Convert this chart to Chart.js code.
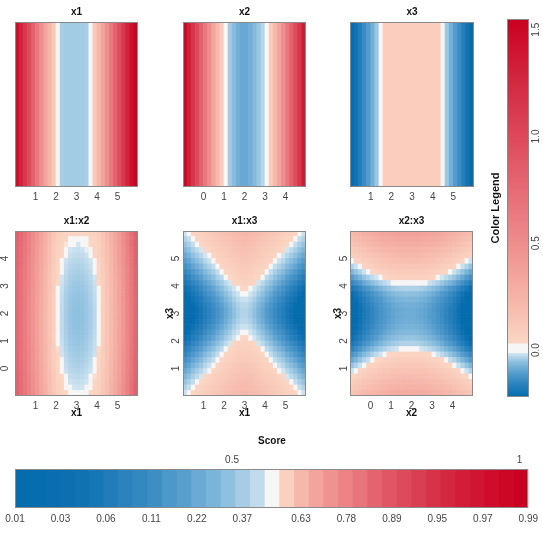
<!DOCTYPE html>
<html lang="en">
<head>
<meta charset="UTF-8">
<title>Effect heatmaps</title>
<script src="https://cdn.jsdelivr.net/npm/chart.js"></script>
<style>
  body { margin: 0; background: #fff; }
  #wrap { position: relative; width: 543px; height: 534px; overflow: hidden; }
  canvas { position: absolute; }
</style>
</head>
<body>
<div id="wrap">
  <canvas id="p1"></canvas>
  <canvas id="p2"></canvas>
  <canvas id="p3"></canvas>
  <canvas id="p4"></canvas>
  <canvas id="p5"></canvas>
  <canvas id="p6"></canvas>
  <canvas id="legend"></canvas>
  <canvas id="score"></canvas>
</div>
<script>
// grid cell centres (x1 and x3 run 0..6, x2 runs -1..5)
const grid06 = [0.1, 0.3, 0.5, 0.7, 0.9, 1.1, 1.3, 1.5, 1.7, 1.9, 2.1, 2.3, 2.5, 2.7, 2.9,
                3.1, 3.3, 3.5, 3.7, 3.9, 4.1, 4.3, 4.5, 4.7, 4.9, 5.1, 5.3, 5.5, 5.7, 5.9];
const gridM15 = [-0.9, -0.7, -0.5, -0.3, -0.1, 0.1, 0.3, 0.5, 0.7, 0.9, 1.1, 1.3, 1.5, 1.7, 1.9,
                 2.1, 2.3, 2.5, 2.7, 2.9, 3.1, 3.3, 3.5, 3.7, 3.9, 4.1, 4.3, 4.5, 4.7, 4.9];

// main effects (one value per column)
const effX1 = [1.45, 1.3, 1.14, 0.98, 0.82, 0.66, 0.5, 0.36, 0.23, 0.1,
               0.005, -0.035, -0.04, -0.04, -0.04, -0.04, -0.04, -0.035, 0.005, 0.1,
               0.23, 0.36, 0.5, 0.66, 0.82, 0.98, 1.14, 1.3, 1.43, 1.53];
const effX2 = [1.5, 1.32, 1.15, 0.98, 0.82, 0.66, 0.5, 0.35, 0.21, 0.08,
               -0.002, -0.04, -0.06, -0.08, -0.09, -0.09, -0.08, -0.065, -0.045, -0.025,
               0.0, 0.08, 0.21, 0.35, 0.5, 0.66, 0.82, 0.98, 1.15, 1.35];
const effX3 = [-0.22, -0.2, -0.17, -0.14, -0.11, -0.08, -0.045, -0.002,
               0.07, 0.07, 0.07, 0.07, 0.07, 0.07, 0.07, 0.07, 0.07, 0.07, 0.07, 0.07, 0.07, 0.07,
               -0.002, -0.045, -0.08, -0.11, -0.14, -0.17, -0.2, -0.22];

// pair surfaces, read as column part + row part
const x1x2Col = [0.8, 0.72, 0.64, 0.56, 0.48, 0.4, 0.32, 0.24, 0.16, 0.085,
                 0.03, 0.008, -0.01, -0.021, -0.026, -0.0275, -0.025, -0.019, -0.009, 0.006,
                 0.03, 0.085, 0.15, 0.22, 0.3, 0.38, 0.47, 0.57, 0.68, 0.8];
const x1x2Row = [0.027, 0.0195, 0.0125, 0.006, 0.0001, -0.0052, -0.0099, -0.0141, -0.0178, -0.0208,
                 -0.0233, -0.0252, -0.0265, -0.0273, -0.0275, -0.0271, -0.0262, -0.0247, -0.0226, -0.0199,
                 -0.0167, -0.0129, -0.0086, -0.0037, 0.0018, 0.0079, 0.0145, 0.0217, 0.0295, 0.045];
const x1x3Col = [-0.245, -0.23, -0.21, -0.195, -0.18, -0.16, -0.145, -0.13, -0.11, -0.095,
                 -0.075, -0.06, -0.04, -0.025, -0.015, -0.015, -0.025, -0.04, -0.06, -0.075,
                 -0.095, -0.11, -0.13, -0.145, -0.16, -0.18, -0.195, -0.21, -0.23, -0.245];
const x1x3Row = [0.235, 0.215, 0.195, 0.175, 0.155, 0.135, 0.115, 0.095, 0.075, 0.055,
                 0.035, 0.02, 0.005, -0.007, -0.014, -0.014, -0.007, 0.005, 0.02, 0.035,
                 0.055, 0.075, 0.095, 0.115, 0.135, 0.155, 0.175, 0.195, 0.215, 0.235];
const x2x3Col = [-0.16, -0.14, -0.12, -0.1, -0.085, -0.07, -0.055, -0.042, -0.03, -0.02,
                 -0.012, -0.006, -0.002, 0, 0, 0, -0.002, -0.006, -0.012, -0.02,
                 -0.03, -0.042, -0.055, -0.07, -0.085, -0.1, -0.12, -0.14, -0.16, -0.18];
const x2x3Row = [0.3, 0.26, 0.22, 0.18, 0.15, 0.11, 0.07, 0.035, 0.0, -0.03,
                 -0.05, -0.065, -0.075, -0.082, -0.085, -0.085, -0.08, -0.07, -0.055, -0.03,
                 0.01, 0.05, 0.09, 0.13, 0.17, 0.21, 0.25, 0.29, 0.33, 0.37];

const ticks15 = [1, 2, 3, 4, 5];
const ticks04 = [0, 1, 2, 3, 4];

// colour legend
const legendRange = [-0.22, 1.55];
const legendTicks = [0, 0.5, 1.0, 1.5];
const legendWhite = [-0.014, 0.03];

// score bar: shade of each block (-1 blue .. 1 red) and its labels
const scoreLevels = [-1, -0.99, -0.98, -0.96, -0.92, -0.87, -0.8, -0.73, -0.68, -0.62, -0.53, -0.47,
                     -0.4, -0.33, -0.25, -0.17, -0.08, 0, 0.03, 0.14, 0.22, 0.3, 0.37, 0.44,
                     0.52, 0.58, 0.64, 0.7, 0.76, 0.81, 0.86, 0.9, 0.94, 0.97, 1];
const scoreTickPos = [0, 3.1, 6.2, 9.3, 12.4, 15.5, 19.5, 22.6, 25.7, 28.8, 31.9, 35];
const scoreTickLabels = ['0.01', '0.03', '0.06', '0.11', '0.22', '0.37', '0.63', '0.78', '0.89', '0.95', '0.97', '0.99'];
const scoreTopPos = [14.8, 34.4];
const scoreTopLabels = ['0.5', '1'];

Chart.defaults.font.family = "'Liberation Sans', Arial, Helvetica, sans-serif";
Chart.defaults.color = '#444';

const palette = [
  [-1.0, [5, 108, 174]],
  [-0.75, [40, 128, 188]],
  [-0.5, [82, 155, 204]],
  [-0.25, [142, 192, 223]],
  [-0.021, [210, 229, 241]],
  [-0.02, [246, 246, 246]],
  [0.007, [246, 246, 246]],
  [0.008, [251, 214, 196]],
  [0.2, [244, 170, 160]],
  [0.4, [234, 124, 130]],
  [0.6, [223, 82, 98]],
  [0.8, [212, 42, 67]],
  [1.0, [202, 0, 32]]
];

function divColor(t) {
  t = Math.max(-1, Math.min(1, t));
  for (let i = 1; i < palette.length; i++) {
    const [t1, c1] = palette[i];
    if (t <= t1) {
      const [t0, c0] = palette[i - 1];
      const f = (t - t0) / (t1 - t0);
      const c = c0.map((v, k) => Math.round(v + (c1[k] - v) * f));
      return `rgb(${c[0]},${c[1]},${c[2]})`;
    }
  }
  return 'rgb(202,0,32)';
}

const toT = v => v < 0 ? v / -legendRange[0] : v / legendRange[1];
const toV = t => t < 0 ? t * -legendRange[0] : t * legendRange[1];
const valueColor = v => divColor(toT(v));

const frame = {
  id: 'frame',
  afterDatasetsDraw(chart) {
    const {ctx, chartArea: a} = chart;
    ctx.save();
    ctx.strokeStyle = '#8a8a8a';
    ctx.lineWidth = 1;
    ctx.strokeRect(Math.round(a.left) + 0.5, Math.round(a.top) + 0.5,
                   Math.round(a.right - a.left) - 1, Math.round(a.bottom - a.top) - 1);
    ctx.restore();
  }
};

const setTicks = list => scale => { scale.ticks = list.map(v => ({value: v})); };
const noGrid = {display: false, drawTicks: false};

function heatPanel(id, box, o) {
  const titleH = 16, axisH = 24;
  const yW = o.yAxis ? o.yAxis.width : 0;
  const cv = document.getElementById(id);
  cv.width = box[2] - box[0] + yW;
  cv.height = box[3] - box[1] + titleH + axisH;
  cv.style.left = (box[0] - yW) + 'px';
  cv.style.top = (box[1] - titleH) + 'px';

  let datasets;
  if (o.rowEff) {
    const half = (o.rows[1] - o.rows[0]) / 2;
    datasets = o.rows.map((r, j) => ({
      data: o.cols.map(c => ({x: c, y: [r - half, r + half]})),
      backgroundColor: o.colEff.map(v => valueColor(v + o.rowEff[j]))
    }));
  } else {
    datasets = [{
      data: o.cols.map(c => ({x: c, y: [o.yRange[0], o.yRange[1]]})),
      backgroundColor: o.colEff.map(valueColor)
    }];
  }
  datasets.forEach(d => Object.assign(d, {grouped: false, barPercentage: 1, categoryPercentage: 1, borderWidth: 0}));

  const tickFont = {size: 10};
  const yScale = o.yAxis ? {
    type: 'linear', min: o.yRange[0], max: o.yRange[1],
    grid: noGrid, border: {display: false},
    afterBuildTicks: setTicks(o.yTicks),
    afterFit: s => { s.width = o.yAxis.width; },
    ticks: {font: tickFont, padding: o.yAxis.pad, minRotation: 90, maxRotation: 90, crossAlign: 'center', autoSkip: false},
    title: o.yAxis.title ? {display: true, text: o.yAxis.title, color: '#111',
      font: {size: 10, weight: 'bold', lineHeight: 1}, padding: {top: o.yAxis.titlePad, bottom: 0}} : {display: false}
  } : {display: false, min: o.yRange[0], max: o.yRange[1]};

  return new Chart(cv, {
    type: 'bar',
    data: {datasets},
    options: {
      responsive: false, animation: false, events: [],
      layout: {padding: 0},
      plugins: {
        legend: {display: false}, tooltip: {enabled: false},
        title: {display: true, text: o.title, fullSize: false, color: '#111',
          font: {size: 10, weight: 'bold', lineHeight: 1}, padding: {top: 1, bottom: 5}}
      },
      scales: {
        x: {
          type: 'linear', offset: false, min: o.xRange[0], max: o.xRange[1],
          grid: noGrid, border: {display: false},
          afterBuildTicks: setTicks(o.xTicks),
          afterFit: s => { s.height = axisH; },
          ticks: {font: tickFont, padding: 4, maxRotation: 0, autoSkip: false},
          title: o.xTitle ? {display: true, text: o.xTitle, color: '#111',
            font: {size: 10, weight: 'bold', lineHeight: 1}, padding: {top: 0, bottom: 2}} : {display: false}
        },
        y: yScale
      }
    },
    plugins: [frame]
  });
}

heatPanel('p1', [15, 22, 138, 187], {title: 'x1', cols: grid06, colEff: effX1, xRange: [0, 6], xTicks: ticks15, yRange: [0, 1]});
heatPanel('p2', [183, 22, 306, 187], {title: 'x2', cols: gridM15, colEff: effX2, xRange: [-1, 5], xTicks: ticks04, yRange: [0, 1]});
heatPanel('p3', [350, 22, 474, 187], {title: 'x3', cols: grid06, colEff: effX3, xRange: [0, 6], xTicks: ticks15, yRange: [0, 1]});

heatPanel('p4', [15, 231, 138, 396], {title: 'x1:x2', cols: grid06, colEff: x1x2Col, rows: gridM15, rowEff: x1x2Row,
  xRange: [0, 6], xTicks: ticks15, xTitle: 'x1', yRange: [-1, 5], yTicks: ticks04,
  yAxis: {width: 15, pad: 7.2}});
heatPanel('p5', [183, 231, 306, 396], {title: 'x1:x3', cols: grid06, colEff: x1x3Col, rows: grid06, rowEff: x1x3Row,
  xRange: [0, 6], xTicks: ticks15, xTitle: 'x1', yRange: [0, 6], yTicks: ticks15,
  yAxis: {width: 20, pad: 3.7, title: 'x3', titlePad: 2}});
heatPanel('p6', [350, 231, 473, 396], {title: 'x2:x3', cols: gridM15, colEff: x2x3Col, rows: grid06, rowEff: x2x3Row,
  xRange: [-1, 5], xTicks: ticks04, xTitle: 'x2', yRange: [0, 6], yTicks: ticks15,
  yAxis: {width: 20, pad: 3.2, title: 'x3', titlePad: 3}});

// colour legend bar on the right
const lg = document.getElementById('legend');
lg.width = 63; lg.height = 420;
lg.style.left = '480px'; lg.style.top = '0px';
new Chart(lg, {
  type: 'bar',
  data: {
    labels: [''],
    datasets: [{
      data: [legendRange],
      yAxisID: 'y',
      barPercentage: 1, categoryPercentage: 1, borderWidth: 0,
      backgroundColor: c => {
        const chart = c.chart;
        if (!chart.chartArea) return null;
        const ys = chart.scales.y;
        const span = legendRange[1] - legendRange[0];
        const g = chart.ctx.createLinearGradient(0, ys.getPixelForValue(legendRange[0]), 0, ys.getPixelForValue(legendRange[1]));
        const stops = palette.filter(([t]) => t < -0.021 || t > 0.008)
          .map(([t, rgb]) => [toV(t), `rgb(${rgb.join(',')})`]);
        stops.push([legendWhite[0] - 0.001, divColor(-0.021)], [legendWhite[0], 'rgb(246,246,246)'],
                   [legendWhite[1], 'rgb(246,246,246)'], [legendWhite[1] + 0.001, divColor(0.008)]);
        stops.sort((a, b) => a[0] - b[0])
          .forEach(([v, col]) => g.addColorStop((v - legendRange[0]) / span, col));
        return g;
      }
    }]
  },
  options: {
    responsive: false, animation: false, events: [],
    layout: {padding: {top: 19, bottom: 23}},
    plugins: {legend: {display: false}, tooltip: {enabled: false}},
    scales: {
      x: {display: false},
      y: {
        type: 'linear', min: legendRange[0], max: legendRange[1],
        grid: noGrid, border: {display: false},
        ticks: {display: false},
        afterFit: s => { s.width = 27; },
        title: {display: true, text: 'Color Legend', color: '#111',
          font: {size: 11, weight: 'bold', lineHeight: 1}, padding: {top: 10.5, bottom: 0}}
      },
      yRight: {
        type: 'linear', position: 'right', min: legendRange[0], max: legendRange[1],
        grid: noGrid, border: {display: false},
        afterBuildTicks: setTicks(legendTicks),
        afterFit: s => { s.width = 14; },
        ticks: {font: {size: 10}, padding: 0.5, minRotation: 90, maxRotation: 90, crossAlign: 'center',
          autoSkip: false, callback: v => v.toFixed(1)}
      }
    }
  },
  plugins: [frame]
});

// score bar along the bottom
const sc = document.getElementById('score');
sc.width = 543; sc.height = 104;
sc.style.left = '0px'; sc.style.top = '430px';
new Chart(sc, {
  type: 'bar',
  data: {
    labels: [''],
    datasets: scoreLevels.map(t => ({
      data: [1], xAxisID: 'x', backgroundColor: divColor(t),
      barPercentage: 1, categoryPercentage: 1, borderWidth: 0
    }))
  },
  options: {
    indexAxis: 'y',
    responsive: false, animation: false, events: [],
    layout: {padding: {left: 15, right: 14, top: 0, bottom: 0}},
    plugins: {
      legend: {display: false}, tooltip: {enabled: false},
      title: {display: true, text: 'Score', color: '#111',
        font: {size: 10, weight: 'bold', lineHeight: 1}, padding: {top: 6.5, bottom: 3}}
    },
    scales: {
      y: {display: false, stacked: true},
      x: {
        type: 'linear', stacked: true, min: 0, max: scoreLevels.length, position: 'bottom',
        grid: noGrid, border: {display: false},
        afterBuildTicks: setTicks(scoreTickPos),
        afterFit: s => { s.height = 26; },
        ticks: {font: {size: 10}, padding: 5, maxRotation: 0, autoSkip: false,
          callback: (v, i) => scoreTickLabels[i]}
      },
      xTop: {
        type: 'linear', min: 0, max: scoreLevels.length, position: 'top',
        grid: noGrid, border: {display: false},
        afterBuildTicks: setTicks(scoreTopPos),
        afterFit: s => { s.height = 19.5; },
        ticks: {font: {size: 10}, padding: 3, maxRotation: 0, autoSkip: false,
          callback: (v, i) => scoreTopLabels[i]}
      }
    }
  },
  plugins: [frame]
});
</script>
</body>
</html>
